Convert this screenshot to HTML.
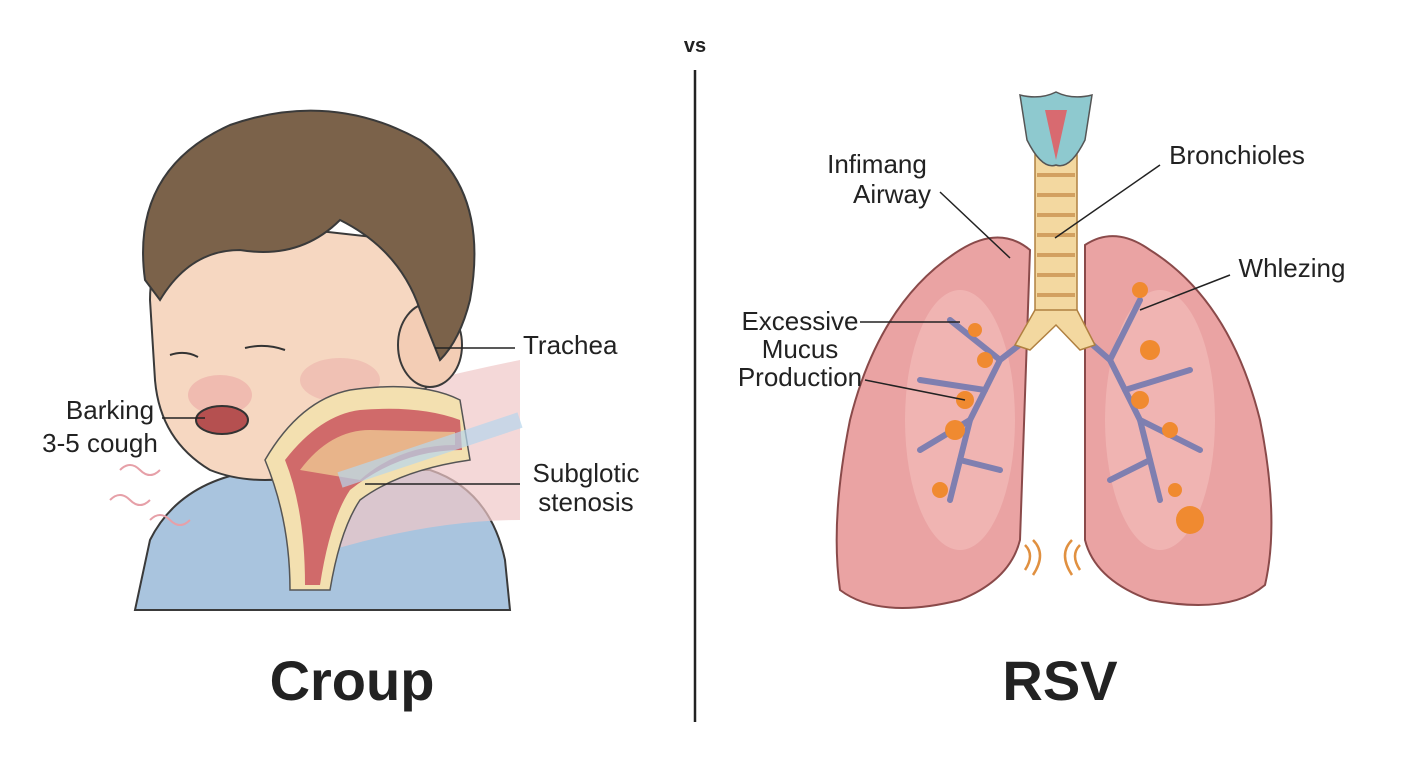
<!DOCTYPE html>
<html><head><meta charset="utf-8"><style>
html,body{margin:0;padding:0;background:#fff;}
body{width:1408px;height:768px;overflow:hidden;position:relative;font-family:"Liberation Sans","DejaVu Sans",sans-serif;}
svg{position:absolute;left:0;top:0;}
</style></head><body>
<svg width="1408" height="768" viewBox="0 0 1408 768">
<!-- divider -->
<line x1="695" y1="70" x2="695" y2="722" stroke="#222" stroke-width="2.5"/>
<text x="695" y="52" font-size="20" font-weight="bold" text-anchor="middle" fill="#222">vs</text>
<text x="352" y="700" font-size="56" font-weight="bold" text-anchor="middle" fill="#222">Croup</text>
<text x="1060" y="700" font-size="56" font-weight="bold" text-anchor="middle" fill="#222">RSV</text>

<!-- LEFT: boy -->
<path d="M135 610 L150 540 Q180 480 260 470 L430 470 Q490 490 505 560 L510 610 Z" fill="#a9c4de" stroke="#3a3a3a" stroke-width="2"/>
<path d="M280 420 Q420 380 520 360 L520 520 Q420 520 300 560 Z" fill="#f0c8c8" opacity="0.7"/>
<path d="M150 300 Q150 230 220 220 L400 240 Q450 300 430 380 Q400 440 330 470 Q260 490 210 470 Q160 440 155 380 Z" fill="#f6d7c1" stroke="#3a3a3a" stroke-width="2"/>
<ellipse cx="430" cy="345" rx="32" ry="42" fill="#f3cdb5" stroke="#3a3a3a" stroke-width="2"/>
<path d="M145 280 Q130 170 230 125 Q330 90 420 140 Q490 190 470 300 Q460 340 440 360 L420 310 Q400 250 340 220 Q300 260 240 250 Q190 250 160 300 Z" fill="#7b624a" stroke="#3a3a3a" stroke-width="2"/>
<ellipse cx="220" cy="395" rx="32" ry="20" fill="#e9a0a0" opacity="0.5"/>
<ellipse cx="340" cy="380" rx="40" ry="22" fill="#e9a0a0" opacity="0.4"/>
<path d="M170 355 Q185 350 198 357" stroke="#333" stroke-width="2" fill="none"/>
<path d="M245 348 Q265 343 285 350" stroke="#333" stroke-width="2" fill="none"/>
<ellipse cx="222" cy="420" rx="26" ry="14" fill="#b55050" stroke="#333" stroke-width="2"/>
<!-- neck trachea layers -->
<path d="M265 460 Q300 400 350 390 Q420 380 460 400 L470 460 Q400 470 360 500 Q340 530 330 590 L290 590 Q290 520 265 460 Z" fill="#f3e0b0" stroke="#555" stroke-width="1.5"/>
<path d="M285 460 Q320 415 360 410 Q420 405 460 420 L462 450 Q400 450 350 490 Q330 520 320 585 L305 585 Q305 510 285 460 Z" fill="#d06a6a"/>
<path d="M300 470 Q330 430 370 430 L455 432 L455 445 Q400 445 360 480 Z" fill="#e8b48a"/>
<path d="M340 480 Q400 460 520 420" stroke="#b7d6ec" stroke-width="16" fill="none" opacity="0.7"/>
<path d="M120 470 q10 -10 20 0 t20 0 M110 500 q10 -10 20 0 t20 0 M150 520 q10 -10 20 0 t20 0" stroke="#e6a0a8" stroke-width="2" fill="none"/>
<!-- left labels -->
<g font-size="26" fill="#222">
<text x="523" y="354">Trachea</text>
<text x="110" y="419" text-anchor="middle">Barking</text>
<text x="100" y="452" text-anchor="middle">3-5 cough</text>
<text x="586" y="482" text-anchor="middle">Subglotic</text>
<text x="586" y="511" text-anchor="middle">stenosis</text>
</g>
<g stroke="#222" stroke-width="1.5">
<line x1="435" y1="348" x2="515" y2="348"/>
<line x1="162" y1="418" x2="205" y2="418"/>
<line x1="365" y1="484" x2="520" y2="484"/>
</g>

<!-- RIGHT: lungs -->
<path d="M1030 250 Q1000 225 960 250 Q880 300 850 420 Q830 520 840 590 Q880 620 960 600 Q1010 580 1020 540 Z" fill="#eaa3a3" stroke="#8a4a4a" stroke-width="2"/>
<path d="M1085 245 Q1115 225 1150 250 Q1230 300 1260 420 Q1280 520 1265 585 Q1230 615 1150 600 Q1095 580 1085 540 Z" fill="#eaa3a3" stroke="#8a4a4a" stroke-width="2"/>
<ellipse cx="960" cy="420" rx="55" ry="130" fill="#f3c0bc" opacity="0.6"/>
<ellipse cx="1160" cy="420" rx="55" ry="130" fill="#f3c0bc" opacity="0.6"/>
<!-- bronchi -->
<g stroke="#7f7fb0" stroke-width="6" fill="none" stroke-linecap="round">
<path d="M1045 325 L1000 360 L970 420 L950 500"/>
<path d="M1070 325 L1110 360 L1140 420 L1160 500"/>
<path d="M1000 360 L950 320 M985 390 L920 380 M970 420 L920 450 M960 460 L1000 470 M1110 360 L1140 300 M1125 390 L1190 370 M1140 420 L1200 450 M1150 460 L1110 480"/>
</g>
<g fill="#f08a30">
<circle cx="965" cy="400" r="9"/><circle cx="955" cy="430" r="10"/><circle cx="975" cy="330" r="7"/><circle cx="940" cy="490" r="8"/><circle cx="985" cy="360" r="8"/>
<circle cx="1140" cy="290" r="8"/><circle cx="1150" cy="350" r="10"/><circle cx="1140" cy="400" r="9"/><circle cx="1170" cy="430" r="8"/><circle cx="1190" cy="520" r="14"/><circle cx="1175" cy="490" r="7"/>
</g>
<!-- trachea -->
<rect x="1035" y="150" width="42" height="170" fill="#f3d8a0" stroke="#b08040" stroke-width="1.5"/>
<g stroke="#d2a060" stroke-width="4">
<line x1="1037" y1="175" x2="1075" y2="175"/><line x1="1037" y1="195" x2="1075" y2="195"/><line x1="1037" y1="215" x2="1075" y2="215"/><line x1="1037" y1="235" x2="1075" y2="235"/><line x1="1037" y1="255" x2="1075" y2="255"/><line x1="1037" y1="275" x2="1075" y2="275"/><line x1="1037" y1="295" x2="1075" y2="295"/>
</g>
<path d="M1035 310 L1015 345 L1030 350 L1056 325 L1080 350 L1095 345 L1077 310 Z" fill="#f3d8a0" stroke="#b08040" stroke-width="1.5"/>
<path d="M1020 95 Q1040 100 1056 92 Q1072 100 1092 95 L1085 140 Q1070 170 1056 165 Q1042 170 1027 140 Z" fill="#8ec9cf" stroke="#555" stroke-width="1.5"/>
<path d="M1045 110 L1056 160 L1067 110 Z" fill="#d86a70"/>
<!-- sound marks -->
<path d="M1025 545 q10 10 0 25 M1033 540 q14 14 0 35 M1080 545 q-10 10 0 25 M1072 540 q-14 14 0 35" stroke="#e09040" stroke-width="2.5" fill="none"/>
<!-- right labels -->
<g font-size="26" fill="#222">
<text x="877" y="173" text-anchor="middle">Infimang</text>
<text x="892" y="203" text-anchor="middle">Airway</text>
<text x="1237" y="164" text-anchor="middle">Bronchioles</text>
<text x="1292" y="277" text-anchor="middle">Whlezing</text>
<text x="800" y="330" text-anchor="middle">Excessive</text>
<text x="800" y="358" text-anchor="middle">Mucus</text>
<text x="800" y="386" text-anchor="middle">Production</text>
</g>
<g stroke="#222" stroke-width="1.5">
<line x1="940" y1="192" x2="1010" y2="258"/>
<line x1="1160" y1="165" x2="1055" y2="238"/>
<line x1="1230" y1="275" x2="1140" y2="310"/>
<line x1="860" y1="322" x2="960" y2="322"/>
<line x1="865" y1="380" x2="965" y2="400"/>
</g>
</svg>
</body></html>
